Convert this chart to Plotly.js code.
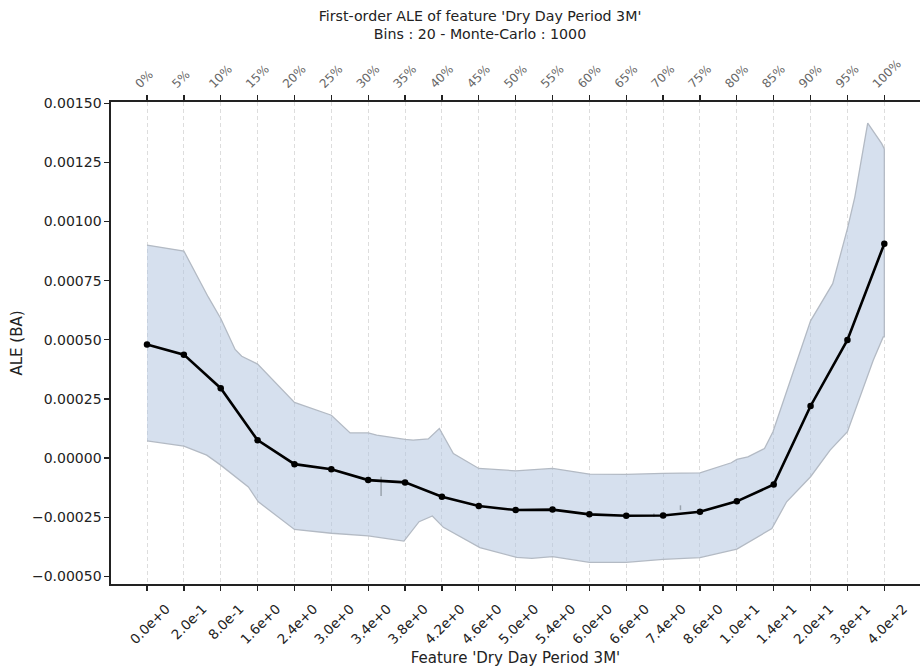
<!DOCTYPE html>
<html>
<head>
<meta charset="utf-8">
<script src="https://cdn.plot.ly/plotly-3.0.1.min.js"></script>
<style>html,body{margin:0;padding:0;background:#fff}#chart{width:920px;height:671px}</style>
</head>
<body>
<div id="chart"></div>
<script>
// ---- data ----
const binLabels = ["0.0e+0","2.0e-1","8.0e-1","1.6e+0","2.4e+0","3.0e+0","3.4e+0","3.8e+0","4.2e+0","4.6e+0","5.0e+0","5.4e+0","6.0e+0","6.6e+0","7.4e+0","8.6e+0","1.0e+1","1.4e+1","2.0e+1","3.8e+1","4.0e+2"];
const pctLabels = ["0%","5%","10%","15%","20%","25%","30%","35%","40%","45%","50%","55%","60%","65%","70%","75%","80%","85%","90%","95%","100%"];
const aleValues = [0.000480,0.000437,0.000295,0.0000756,-0.0000258,-0.000047,-0.0000933,-0.000103,-0.000164,-0.000203,-0.000220,-0.000218,-0.000238,-0.000244,-0.000243,-0.000227,-0.000183,-0.000112,0.000220,0.000499,0.000906];
const upperPos = [0,1,1.66,2,2.39,2.57,3,4,5,5.51,6,6.23,7,7.22,7.63,7.93,8.31,9,10,11,12,13,14,15,15.85,16,16.3,16.75,16.98,18,18.6,19,19.2,19.55,19.93,20];
const upperVal = [0.000900,0.000875,0.000681,0.000590,0.000459,0.000430,0.000397,0.000235,0.000181,0.000106,0.000106,0.000097,0.0000785,0.000076,0.000081,0.000125,0.000019,-0.000044,-0.000054,-0.000044,-0.000068,-0.000069,-0.000065,-0.0000625,-0.00002,-0.000006,0.000005,0.00004,0.000111,0.00058,0.000737,0.00097,0.001103,0.001416,0.001329,0.001307];
const lowerPos = [0,1,1.62,2,2.75,3.02,4,5,6,6.97,7.38,7.74,8.04,8.31,9.03,10.03,10.44,11,12,13,14,15,16,16.95,17.35,18,18.53,19,19.7,19.97,20];
const lowerVal = [0.0000726,0.0000505,0.0000122,-0.00003,-0.000122,-0.000185,-0.000302,-0.000318,-0.000329,-0.000351,-0.000269,-0.000245,-0.000293,-0.000318,-0.000379,-0.00042,-0.000424,-0.000417,-0.000441,-0.000441,-0.000428,-0.000421,-0.000385,-0.000298,-0.000185,-0.000079,0.0000333,0.000111,0.000413,0.000512,0.000512];
const stubPos = [6.35,6.35,null,13.75,13.75,null,14.47,14.47];
const stubVal = [-0.000079,-0.000161,null,-0.000235,-0.000249,null,-0.000200,-0.000220];

const idx = binLabels.map((_, i) => i);
const bandX = upperPos.concat(lowerPos.slice().reverse());
const bandY = upperVal.concat(lowerVal.slice().reverse());

const traces = [
  {x: bandX, y: bandY, type: 'scatter', mode: 'lines', fill: 'toself',
   fillcolor: 'rgba(176,196,222,0.52)', line: {color: '#b3bac4', width: 1.3},
   hoverinfo: 'skip', showlegend: false},
  {x: stubPos, y: stubVal, type: 'scatter', mode: 'lines',
   line: {color: '#9aa3ad', width: 1.5}, hoverinfo: 'skip', showlegend: false},
  {x: idx, y: aleValues, type: 'scatter', mode: 'lines+markers',
   line: {color: '#000', width: 2.6}, marker: {color: '#000', size: 6.5},
   showlegend: false},
  {x: idx, y: aleValues, xaxis: 'x2', type: 'scatter', mode: 'markers',
   marker: {opacity: 0}, hoverinfo: 'skip', showlegend: false}
];

const font = "DejaVu Sans, sans-serif";
const xr = [-0.9765, 20.968];
const layout = {
  width: 920, height: 671,
  margin: {l: 111, r: 0, t: 102, b: 87},
  paper_bgcolor: '#fff', plot_bgcolor: '#fff',
  font: {family: font, size: 14, color: '#222'},
  title: {text: "First-order ALE of feature 'Dry Day Period 3M'<br>Bins : 20 - Monte-Carlo : 1000",
          x: 480/920, xref: 'container', xanchor: 'center', y: 1 - 21/671, yref: 'container', yanchor: 'middle',
          font: {family: font, size: 14.2, color: '#222'}},
  xaxis: {range: xr, tickmode: 'array', tickvals: idx, ticktext: binLabels, tickangle: -45,
          ticks: 'outside', ticklen: 5, tickwidth: 1.3, tickcolor: '#222',
          ticklabelshift: 19, ticklabelstandoff: 5,
          showline: true, linecolor: '#222', linewidth: 1.6, zeroline: false,
          showgrid: true, gridcolor: '#dddddd', gridwidth: 1, griddash: '4px,3px',
          tickfont: {family: font, size: 13.5, color: '#222'},
          title: {text: "Feature 'Dry Day Period 3M'", standoff: 6, font: {family: font, size: 15, color: '#222'}}},
  xaxis2: {range: xr, overlaying: 'x', side: 'top', tickmode: 'array', tickvals: idx, ticktext: pctLabels,
           tickangle: -45, ticks: 'outside', ticklen: 5, tickwidth: 1.3, tickcolor: '#222',
           ticklabelshift: -11,
           showline: true, linecolor: '#222', linewidth: 1.6, zeroline: false, showgrid: false,
           tickfont: {family: font, size: 12, color: '#666'}},
  yaxis: {range: [-0.0005325, 0.001505], tickmode: 'array',
          tickvals: [-0.0005,-0.00025,0,0.00025,0.0005,0.00075,0.001,0.00125,0.0015],
          tickformat: '.5f', ticks: 'outside', ticklen: 5, tickwidth: 1.3, tickcolor: '#222',
          showline: true, linecolor: '#222', linewidth: 1.6, zeroline: false, showgrid: false,
          tickfont: {family: font, size: 14, color: '#222'},
          title: {text: 'ALE (BA)', standoff: 6, font: {family: font, size: 15, color: '#222'}}}
};

Plotly.newPlot('chart', traces, layout, {displayModeBar: false, staticPlot: true});
</script>
</body>
</html>
